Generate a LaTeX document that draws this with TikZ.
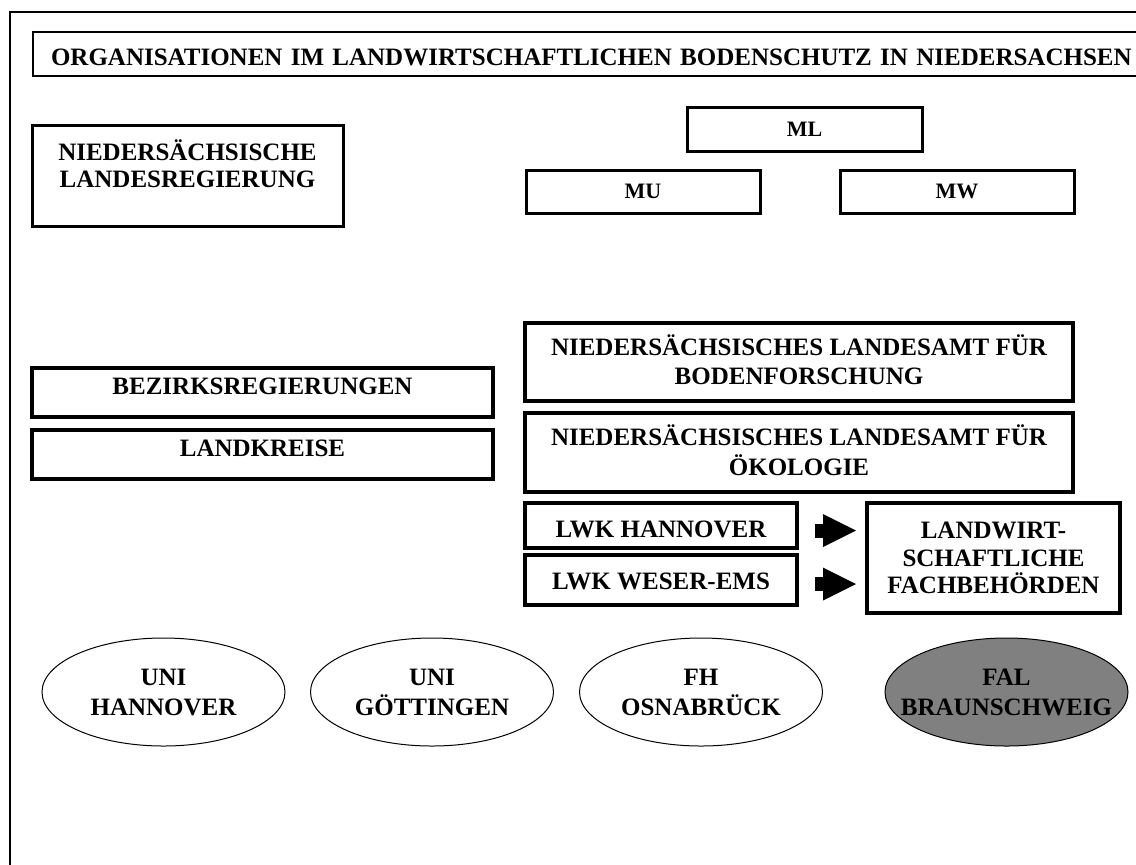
\documentclass[tikz,border=0pt]{standalone}
\usepackage{fontspec}
\setmainfont{Liberation Serif}
\usetikzlibrary{shapes.geometric,arrows.meta}
\newcommand\deep[1]{\rule[-#1]{0pt}{#1}}
\begin{document}
\begin{tikzpicture}[x=0.5pt,y=-0.5pt,
  box/.style={draw, rectangle, line width=2pt, inner sep=0pt, align=center,
    font=\bfseries\fontsize{12.5}{13.5}\selectfont},
  thinbox/.style={box, line width=1.5pt},
  mbox/.style={box, line width=1.5pt, font=\bfseries\fontsize{11}{13}\selectfont},
  oval/.style={draw, ellipse, line width=0.5pt, inner xsep=-15pt, inner ysep=0pt, align=center,
    minimum width=121.5pt, minimum height=54pt,
    font=\bfseries\fontsize{12.5}{15}\selectfont},
  blockarr/.style={line width=7pt, line cap=butt,
    -{Triangle[length=16.5pt,width=16.5pt,line width=0pt]}},
  titlebox/.style={draw, rectangle, line width=1pt, inner xsep=9pt, inner ysep=0pt,
    minimum width=584pt, minimum height=22pt, text width=566pt, align=left,
    font=\bfseries\fontsize{12.5}{14}\selectfont}
]
\useasboundingbox (0,0) rectangle (1136,864);
\clip (0,0) rectangle (1136,864);
\fill[white] (0,0) rectangle (1136,864);
% outer frame
\draw[line width=1pt] (10,12) rectangle (1220,900);
% title
\node[titlebox, anchor=west] (title) at (32,54)
  {\mbox{\rule{0pt}{11.3pt}ORGANISATIONEN IM LANDWIRTSCHAFTLICHEN BODENSCHUTZ IN NIEDERSACHSEN}};
% left column
\node[thinbox, minimum width=155.5pt, minimum height=50.5pt] (nlr) at (187.5,175.5)
  {NIEDERSÄCHSISCHE\\LANDESREGIERUNG\deep{12.4pt}};
\node[box, minimum width=230.5pt, minimum height=24.5pt] (bez) at (262.5,392.5)
  {BEZIRKSREGIERUNGEN\deep{6pt}};
\node[box, minimum width=230.5pt, minimum height=24.5pt] (lk) at (262.5,454.5)
  {LANDKREISE\deep{6pt}};
% ministries
\node[mbox, minimum width=117.5pt, minimum height=22pt] (ml) at (804.5,129) {ML};
\node[mbox, minimum width=117pt, minimum height=21.5pt] (mu) at (643,191.5) {MU};
\node[mbox, minimum width=117pt, minimum height=21.5pt] (mw) at (957,191.5) {MW};
% Landesaemter
\node[box, minimum width=274pt, minimum height=39pt,
  font=\bfseries\fontsize{12.5}{14.5}\selectfont] (nlfb) at (799,362)
  {NIEDERSÄCHSISCHES LANDESAMT FÜR\\BODENFORSCHUNG\deep{2.9pt}};
\node[box, minimum width=274pt, minimum height=39.5pt,
  font=\bfseries\fontsize{12.5}{15}\selectfont] (nloe) at (799,452.5)
  {NIEDERSÄCHSISCHES LANDESAMT FÜR\\ÖKOLOGIE\deep{2.9pt}};
% LWK
\node[box, minimum width=136pt, minimum height=22.5pt] (lwkh) at (661,525.5)
  {\rule{0pt}{11.8pt}LWK HANNOVER};
\node[box, minimum width=136pt, minimum height=25pt] (lwkw) at (661,580)
  {\rule{0pt}{9.8pt}LWK WESER-EMS};
\node[box, minimum width=126.5pt, minimum height=55pt,
  font=\bfseries\fontsize{12.5}{13.75}\selectfont] (lwf) at (993.5,558)
  {LANDWIRT-\\SCHAFTLICHE\\FACHBEHÖRDEN};
\draw[blockarr, shorten <=8pt, shorten >=4.5pt]
  ([yshift=-2.5pt]lwkh.east) -- ([yshift=-2.5pt]lwkh.east -| lwf.west);
\draw[blockarr, shorten <=8pt, shorten >=4.5pt]
  ([yshift=-2pt]lwkw.east) -- ([yshift=-2pt]lwkw.east -| lwf.west);
% research institutions
\node[oval] (uh) at (163.5,692) {UNI\\HANNOVER};
\node[oval] (ug) at (432,692) {UNI\\GÖTTINGEN};
\node[oval] (fh) at (701,692) {FH\\OSNABRÜCK};
\node[oval, fill={rgb,1:red,0.5;green,0.5;blue,0.5}] (fal) at (1006.5,692) {FAL\\BRAUNSCHWEIG};
\end{tikzpicture}
\end{document}
